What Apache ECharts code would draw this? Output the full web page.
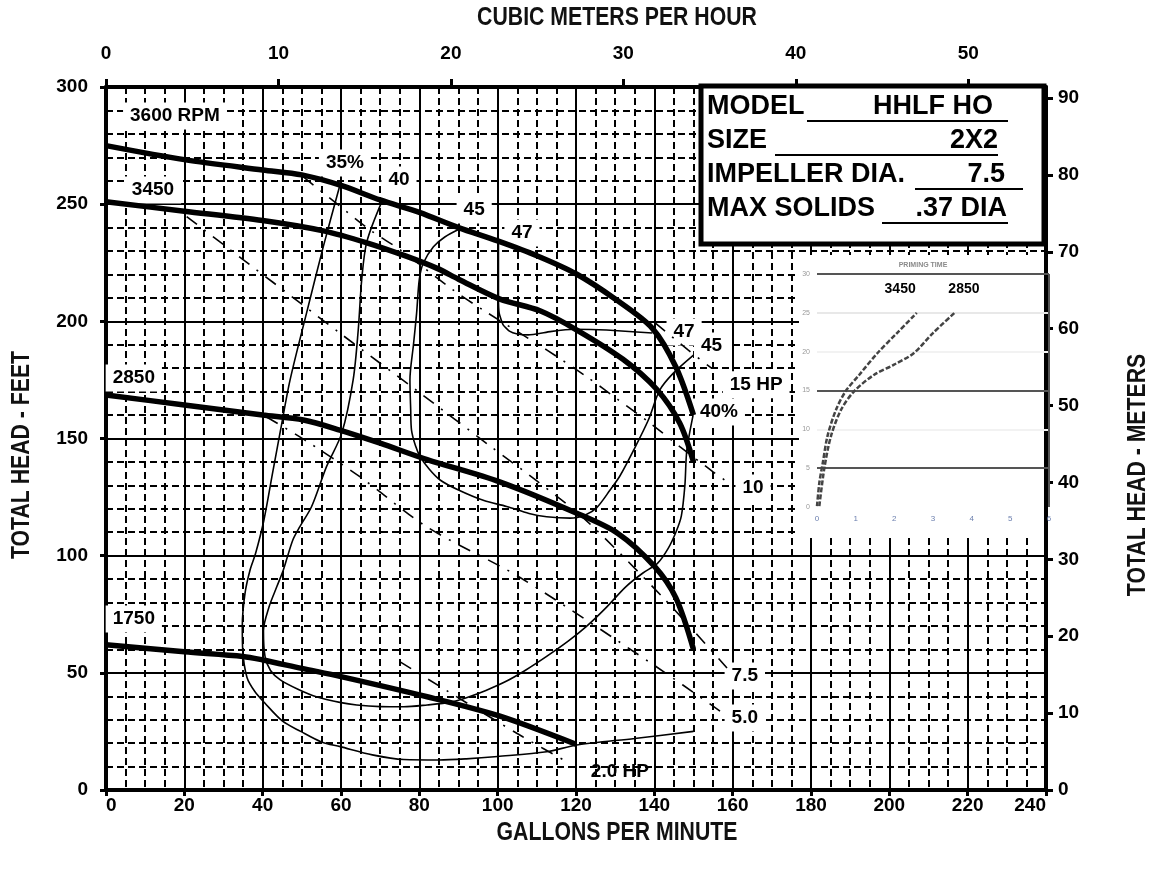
<!DOCTYPE html>
<html>
<head>
<meta charset="utf-8">
<script src="https://cdn.jsdelivr.net/npm/echarts@6/dist/echarts.min.js"></script>
<style>
html,body{margin:0;padding:0;background:#fff;}
#chart{width:1157px;height:876px;}
</style>
</head>
<body>
<div id="chart"></div>
<script>
// ---------- DATA ----------
// pump head curves: [GPM, feet]
const rpm3600 = [[0,275],[20,269],[40,264.6],[50,262.5],[60,258],[70,251.8],[80,246.5],[90,240],[100,234.3],[110,228],[120,220.3],[130,209.5],[139.5,197],[145.5,180.5],[150,160]];
const rpm3450 = [[0,251],[20,247],[40,243],[55.5,238.6],[66.6,233.5],[76.8,227.7],[84.4,222.7],[90,218],[100.6,209.5],[110.8,204.5],[120,196.5],[132,183.8],[140.6,171],[146.5,156.5],[150,140]];
const rpm2850 = [[0,168.6],[20,164.3],[40,160],[50.4,157.9],[59.7,153.6],[70,148],[82,141],[100.5,131.5],[120.2,118.1],[130.7,109.5],[140,95.5],[145.5,82],[150,60]];
const rpm1750 = [[0,62],[20,59],[35,57],[40,55.5],[50,51.9],[60,48.4],[82,39.8],[100.4,31.6],[120,19.5]];
// efficiency curves
const eff35 = [[59.7,258],[55.5,232],[51.2,203.5],[47,175],[44.5,153],[42.5,135],[40.3,115],[38.2,101],[36.8,94],[35.5,84],[34.8,70],[34.9,60],[36,48],[38,42],[40.6,37],[45,29.5],[49.7,25],[55,20.5],[59.8,18.5],[68,15],[76,13],[85,12.8],[92,13.3],[100,14.3],[112.5,16.3],[120.2,19.2],[135,22],[150,25]];
const eff40 = [[70.4,251],[66.6,234],[65.3,218],[64.4,196.3],[63.1,175],[60.2,152.3],[56.3,138],[52.5,121],[49.5,112.4],[47.7,106.7],[45.3,94],[43.6,86.7],[41.6,78],[40.2,68],[40.6,57],[42,51],[44.5,47],[49,43],[53.7,39.8],[60,37.3],[64,36.3],[70,35.6],[76,35.5],[82,36.3],[88,37.5],[92.2,39.5],[97,42.5],[102.3,46.5],[107,51],[112.5,57],[118,63.5],[122.6,69.7],[127.5,77.5],[132.7,86.7],[137,92.5],[140.8,96.7],[143.5,103],[145.5,110],[146.9,117],[147.8,130],[148.3,145],[149.9,160]];
const eff45 = [[90.4,239.5],[86.5,236],[83.6,231.8],[81,224.8],[80,218],[79.3,203.4],[78.5,190],[77.6,175],[77.8,162],[78,153.6],[79,147],[80.2,142.3],[82.5,137],[85.3,132.3],[90,128],[96.5,123.5],[102.3,121],[108,118],[112.5,116.6],[118.5,116],[122.5,117.5],[125.3,120.5],[128.7,128],[131.2,134],[134.7,145],[138.5,158],[141.4,170.7],[144.8,177.8],[150,185.6]];
const eff47 = [[100.2,234],[100.2,210],[100.4,203.4],[101.4,198.5],[103,195.8],[105,194.6],[107.8,194.2],[113.4,195.6],[119.3,196.6],[127.8,196.3],[139.5,195]];
// horsepower lines
const hp15 = [[140.2,199.3],[148.6,187.8],[154.6,180]];
const hp10 = [[50.4,261.6],[59,250.1],[67.4,239],[75.1,230.5],[88.6,213.4],[96.2,204.9],[112.5,187.8],[122.7,176.4],[130.8,166.5],[138.9,156.6],[146.5,146.5],[155,135.8],[159.7,130.2]];
const hp75 = [[20.6,244.7],[59.3,195.5],[80.2,169.4],[98.3,146.5],[110,131.9],[122.5,115.2],[142.8,81.1],[159,51.2]];
const hp50 = [[41,159.2],[50.7,149.4],[64.9,133.6],[82,112.2],[105.4,91],[139.8,53.4],[157,33.4]];
const hp20 = [[75.1,54.7],[86.1,43.3],[106.4,22.7],[118.5,11.3]];
// chart labels: [text, GPM, feet]
const boxedLabels = [["3600 RPM",17.6,287.6],["3450",12,256],["2850",7.1,175.8],["1750",7.1,73],
  ["35%",61,267.6],["40",74.8,260.3],["45",94,247.5],["47",106.2,237.7],["47",147.6,195.5],["45",154.6,189.5],
  ["15 HP",166,172.9],["40%",156.5,161.3],["10",165.2,128.9],["7.5",163.1,48.7],["5.0",163.1,30.7]];
const plainLabels = [["2.0 HP",131.2,7.7]];
// axes
const gpmMax = 240, ftMax = 300;
const GPM_PER_M3H = 4.40287, FT_PER_M = 3.28084;
// priming time inset: [x, y]
const prime3450 = [[0,0.1],[0.06,3.1],[0.15,5.7],[0.27,9.1],[0.49,12.5],[0.74,14.9],[1.09,17.0],[1.56,19.8],[2.07,22.4],[2.58,25]];
const prime2850 = [[0.06,0.1],[0.19,5],[0.36,9.1],[0.62,12.5],[0.96,14.9],[1.47,17.0],[1.98,18.3],[2.5,19.8],[3.0,22.4],[3.56,25]];
const primeLabels = [["3450",2.15,28],["2850",3.8,28]];
// spec box
const specRows = [["MODEL","HHLF HO"],["SIZE","2X2"],["IMPELLER DIA.","7.5"],["MAX SOLIDS",".37 DIA"]];

// ---------- CHART ----------
const FONT = '"Liberation Sans", Arial, Helvetica, sans-serif';
const chart = echarts.init(document.getElementById('chart'), null, {renderer:'canvas'});

const G = {left:106, top:87, right:1157-1046, bottom:876-790};

function thick(data){return {type:'line', data, xAxisIndex:0, yAxisIndex:0, showSymbol:false, smooth:0.3, z:5,
  lineStyle:{color:'#000', width:5.5}, silent:true, animation:false};}
function thin(data){return {type:'line', data, xAxisIndex:0, yAxisIndex:0, showSymbol:false, smooth:0.3, z:4,
  lineStyle:{color:'#000', width:1.6}, silent:true, animation:false};}
function hp(data){return {type:'line', data, xAxisIndex:0, yAxisIndex:0, showSymbol:false, smooth:0.3, z:4,
  lineStyle:{color:'#000', width:1.6, type:[13,9,2,9]}, silent:true, animation:false};}

const series = [
  thick(rpm3600), thick(rpm3450), thick(rpm2850), thick(rpm1750),
  thin(eff35), thin(eff40), thin(eff45), {...thin(eff47), smooth:0.15},
  hp(hp15), hp(hp10), hp(hp75), hp(hp50), hp(hp20),
  // inset
  {type:'line', data:prime3450, xAxisIndex:2, yAxisIndex:2, showSymbol:false, smooth:0.3, z:21, silent:true, animation:false,
   lineStyle:{color:'#444', width:2.5, type:[5,2]}},
  {type:'line', data:prime2850, xAxisIndex:2, yAxisIndex:2, showSymbol:false, smooth:0.3, z:21, silent:true, animation:false,
   lineStyle:{color:'#444', width:2.5, type:[5,2]}}
];

const axisLabelStyle = {fontFamily:FONT, fontWeight:'bold', fontSize:19, color:'#000'};
const thickLine = {show:true, onZero:false, lineStyle:{color:'#000', width:4}};

const option = {
  backgroundColor:'#fff',
  animation:false,
  grid:[
    {left:G.left, top:G.top, right:G.right, bottom:G.bottom, containLabel:false},
    {left:817, top:274, width:232, height:233, containLabel:false}
  ],
  xAxis:[
    {type:'value', gridIndex:0, position:'bottom', min:0, max:gpmMax, interval:20, z:1,
     axisLine:thickLine, axisTick:{show:true, length:6, lineStyle:{color:'#000', width:3}},
     axisLabel:{...axisLabelStyle, margin:6, alignMinLabel:'left', alignMaxLabel:'right'},
     splitLine:{show:true, lineStyle:{color:'#000', width:2}},
     minorTick:{show:false, splitNumber:4},
     minorSplitLine:{show:true, lineStyle:{color:'#000', width:2, type:[7,4]}}},
    {type:'value', gridIndex:0, position:'top', min:0, max:gpmMax/GPM_PER_M3H, interval:10, z:1,
     axisLine:thickLine, axisTick:{show:true, length:8, lineStyle:{color:'#000', width:3}},
     axisLabel:{...axisLabelStyle, margin:24, showMaxLabel:false, formatter:v=>(Math.abs(v%10)<1e-6?String(v):'')},
     splitLine:{show:false}},
    {type:'value', gridIndex:1, min:0, max:6, interval:1, z:20,
     axisLine:{show:false}, axisTick:{show:false},
     axisLabel:{fontFamily:FONT, fontSize:8, color:'#6b7fae', margin:8},
     splitLine:{show:true, lineStyle:{color:['rgba(0,0,0,0)','rgba(0,0,0,0)','rgba(0,0,0,0)','rgba(0,0,0,0)','rgba(0,0,0,0)','rgba(0,0,0,0)','#555'], width:2}}}
  ],
  yAxis:[
    {type:'value', gridIndex:0, position:'left', min:0, max:ftMax, interval:50, z:1,
     axisLine:thickLine, axisTick:{show:true, length:6, lineStyle:{color:'#000', width:3}},
     axisLabel:{...axisLabelStyle, margin:18},
     splitLine:{show:true, lineStyle:{color:'#000', width:2}},
     minorTick:{show:false, splitNumber:5},
     minorSplitLine:{show:true, lineStyle:{color:'#000', width:2, type:[7,4]}}},
    {type:'value', gridIndex:0, position:'right', min:0, max:ftMax/FT_PER_M, interval:10, z:1,
     axisLine:thickLine, axisTick:{show:true, length:7, lineStyle:{color:'#000', width:3}},
     axisLabel:{...axisLabelStyle, margin:12, showMaxLabel:false, formatter:v=>(Math.abs(v%10)<1e-6?String(v):'')},
     splitLine:{show:false}},
    {type:'value', gridIndex:1, min:0, max:30, interval:5, z:20,
     axisLine:{show:false}, axisTick:{show:false},
     axisLabel:{fontFamily:FONT, fontSize:7, color:'#999', margin:7},
     splitLine:{show:true, lineStyle:{color:['rgba(0,0,0,0)','#555','#f2f2f2','#555','#f2f2f2','#e8e8e8','#555'], width:2}}}
  ],
  series
};
chart.setOption(option);

// ---------- overlay elements (positions from the chart's own scales) ----------
const graphics = [];
const px = (x,y)=>chart.convertToPixel({gridIndex:0}, [x,y]);
const pxInset = (x,y)=>chart.convertToPixel({gridIndex:1}, [x,y]);
boxedLabels.forEach(d=>{
  const p = px(d[1], d[2]);
  graphics.push({type:'text', z:2, x:p[0], y:p[1], style:{text:d[0], fontFamily:FONT, fontWeight:'bold', fontSize:19,
    fill:'#000', align:'center', verticalAlign:'middle', backgroundColor:'#fff', padding:[4,7]}});
});
plainLabels.forEach(d=>{
  const p = px(d[1], d[2]);
  graphics.push({type:'text', z:2, x:p[0], y:p[1], style:{text:d[0], fontFamily:FONT, fontWeight:'bold', fontSize:19,
    fill:'#000', align:'center', verticalAlign:'middle'}});
});
// inset white background
graphics.push({type:'rect', z:15, shape:{x:799, y:255, width:245, height:283}, style:{fill:'#fff'}});
graphics.push({type:'text', z:16, x:923, y:265, style:{text:'PRIMING TIME', fontFamily:FONT, fontSize:7, fontWeight:'bold', fill:'#8a8a8a', align:'center', verticalAlign:'middle'}});
primeLabels.forEach(d=>{
  const p = pxInset(d[1], d[2]);
  graphics.push({type:'text', z:22, x:p[0], y:p[1], style:{text:d[0], fontFamily:FONT, fontWeight:'bold', fontSize:14,
    fill:'#000', align:'center', verticalAlign:'middle'}});
});
// spec box
graphics.push({type:'rect', z:15, shape:{x:701, y:86, width:343, height:158}, style:{fill:'#fff', stroke:'#000', lineWidth:5}});
const rowY = [107, 141, 175, 209];
const valRight = [993, 998, 1005, 1007];
const lineSeg = [[807,1008],[775,998],[915,1023],[882,1008]];
specRows.forEach((r,i)=>{
  graphics.push({type:'text', z:16, x:707, y:rowY[i], style:{text:r[0], fontFamily:FONT, fontWeight:'bold', fontSize:27, fill:'#000', align:'left', verticalAlign:'middle'}});
  graphics.push({type:'text', z:16, x:valRight[i], y:rowY[i], style:{text:r[1], fontFamily:FONT, fontWeight:'bold', fontSize:27, fill:'#000', align:'right', verticalAlign:'middle'}});
  graphics.push({type:'line', z:16, shape:{x1:lineSeg[i][0], y1:rowY[i]+14, x2:lineSeg[i][1], y2:rowY[i]+14}, style:{stroke:'#000', lineWidth:2}});
});
// axis titles (condensed look)
const titleStyle = {fontFamily:FONT, fontWeight:'bold', fontSize:25, fill:'#111', align:'center', verticalAlign:'middle'};
graphics.push({type:'text', z:16, x:617, y:833, scaleX:0.85, style:{...titleStyle, text:'GALLONS PER MINUTE'}});
graphics.push({type:'text', z:16, x:617, y:18, scaleX:0.85, style:{...titleStyle, text:'CUBIC METERS PER HOUR'}});
graphics.push({type:'text', z:16, x:22, y:455, rotation:Math.PI/2, scaleX:0.85, style:{...titleStyle, text:'TOTAL HEAD - FEET'}});
graphics.push({type:'text', z:16, x:1138, y:475, rotation:Math.PI/2, scaleX:0.85, style:{...titleStyle, text:'TOTAL HEAD - METERS'}});

chart.setOption({graphic:{elements:graphics}});
</script>
</body>
</html>
